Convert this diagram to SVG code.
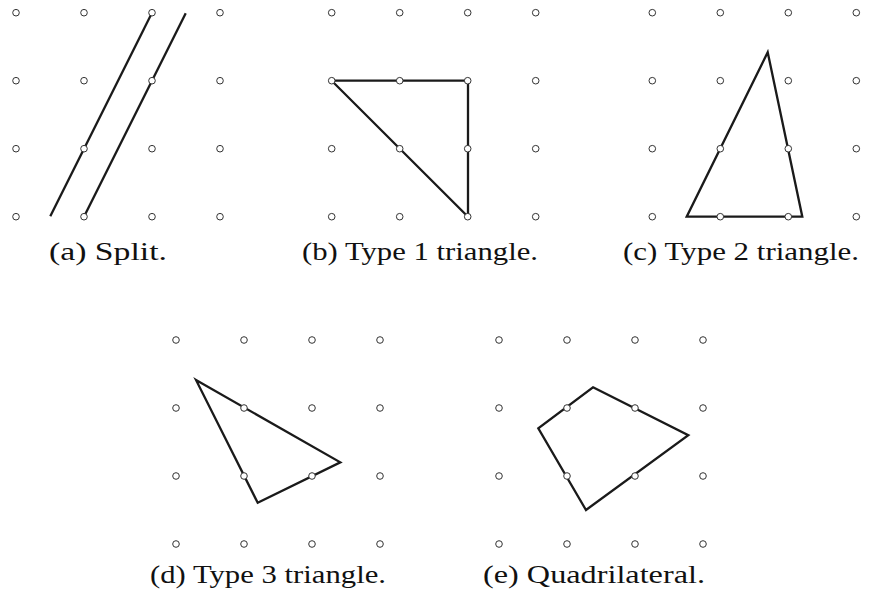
<svg xmlns="http://www.w3.org/2000/svg" xmlns:xlink="http://www.w3.org/1999/xlink" width="882" height="597" viewBox="0 0 882 597">
<style>
.ln{fill:none;stroke:#1a1a1a;stroke-width:2.3;stroke-linejoin:miter;stroke-linecap:butt}
.cap{font-family:"Liberation Serif","DejaVu Serif",serif;font-size:26px;fill:#111}
</style>
<defs>
<circle id="d" r="3.3" fill="#fff" stroke="#333" stroke-width="1"/>
<g id="grid">
<use xlink:href="#d" x="0" y="0"/><use xlink:href="#d" x="68" y="0"/><use xlink:href="#d" x="136" y="0"/><use xlink:href="#d" x="204" y="0"/>
<use xlink:href="#d" x="0" y="68"/><use xlink:href="#d" x="68" y="68"/><use xlink:href="#d" x="136" y="68"/><use xlink:href="#d" x="204" y="68"/>
<use xlink:href="#d" x="0" y="136"/><use xlink:href="#d" x="68" y="136"/><use xlink:href="#d" x="136" y="136"/><use xlink:href="#d" x="204" y="136"/>
<use xlink:href="#d" x="0" y="204"/><use xlink:href="#d" x="68" y="204"/><use xlink:href="#d" x="136" y="204"/><use xlink:href="#d" x="204" y="204"/>
</g>
</defs>
<rect width="882" height="597" fill="#fff"/>

<g id="panel-a">
<line class="ln" x1="152" y1="12.7" x2="50.3" y2="216.2"/>
<line class="ln" x1="185.7" y1="13.3" x2="84" y2="216.7"/>
<use xlink:href="#grid" x="16" y="12.7"/>
<text class="cap" x="49" y="260" textLength="118" lengthAdjust="spacingAndGlyphs">(a)  Split.</text>
</g>

<g id="panel-b">
<polygon class="ln" points="331.7,80.7 468,80.7 468,216.7"/>
<use xlink:href="#grid" x="331.7" y="12.7"/>
<text class="cap" x="302" y="260" textLength="236" lengthAdjust="spacingAndGlyphs">(b)  Type 1 triangle.</text>
</g>

<g id="panel-c">
<polygon class="ln" points="767.7,52.3 802.3,216.7 686.7,216.7"/>
<use xlink:href="#grid" x="652.3" y="12.7"/>
<text class="cap" x="623" y="260" textLength="236" lengthAdjust="spacingAndGlyphs">(c)  Type 2 triangle.</text>
</g>

<g id="panel-d">
<polygon class="ln" points="196,380 340.3,462.3 257.7,502.7"/>
<use xlink:href="#grid" x="176" y="340"/>
<text class="cap" x="150" y="583" textLength="236" lengthAdjust="spacingAndGlyphs">(d)  Type 3 triangle.</text>
</g>

<g id="panel-e">
<polygon class="ln" points="593,387.3 688.3,435.3 586,510 538.3,428.3"/>
<use xlink:href="#grid" x="499" y="340"/>
<text class="cap" x="483" y="583" textLength="222" lengthAdjust="spacingAndGlyphs">(e)  Quadrilateral.</text>
</g>
</svg>
